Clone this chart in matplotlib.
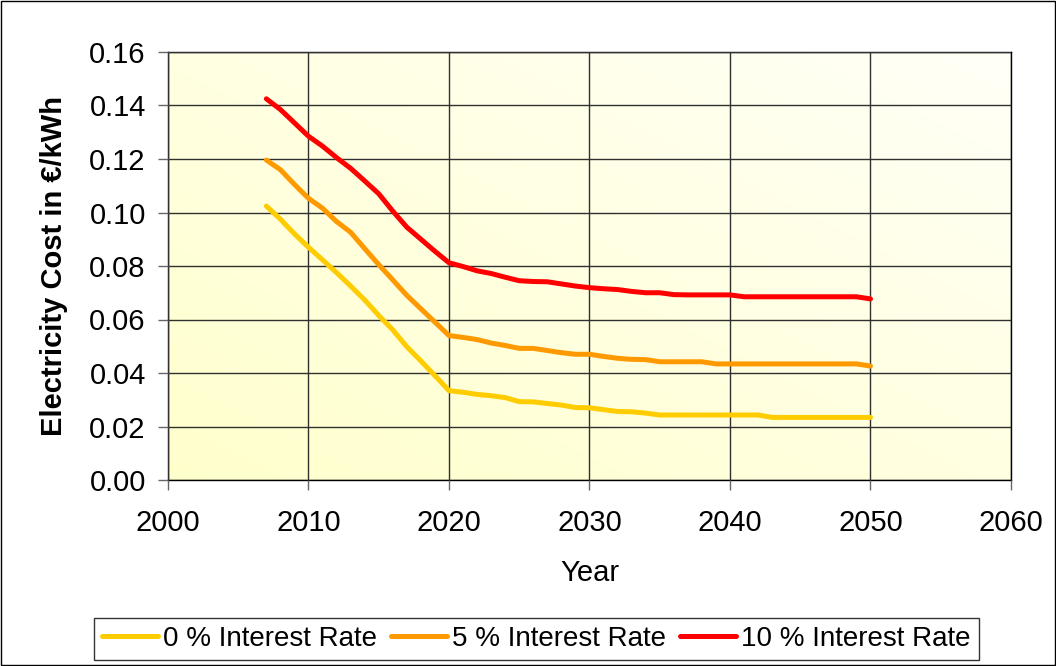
import matplotlib
matplotlib.use("Agg")
import matplotlib.pyplot as plt
import numpy as np

years = list(range(2007, 2051))

rate0 = [0.1024, 0.0975, 0.0920, 0.0870, 0.0823, 0.0775, 0.0725, 0.0673, 0.0615, 0.0561,
         0.0498, 0.0445, 0.0390, 0.0334, 0.0328, 0.0320, 0.0315, 0.0308, 0.0293, 0.0292,
         0.0286, 0.0280, 0.0271, 0.0270, 0.0263, 0.0256, 0.0255, 0.0250, 0.0243, 0.0243,
         0.0243, 0.0243, 0.0243, 0.0243, 0.0243, 0.0243, 0.0234, 0.0234, 0.0234, 0.0234,
         0.0234, 0.0234, 0.0234, 0.0234]
rate5 = [0.1196, 0.1160, 0.1105, 0.1053, 0.1016, 0.0966, 0.0926, 0.0865, 0.0805, 0.0748,
         0.0690, 0.0640, 0.0590, 0.0540, 0.0533, 0.0525, 0.0512, 0.0503, 0.0492, 0.0492,
         0.0484, 0.0476, 0.0470, 0.0470, 0.0462, 0.0455, 0.0451, 0.0450, 0.0442, 0.0442,
         0.0442, 0.0442, 0.0434, 0.0434, 0.0434, 0.0434, 0.0434, 0.0434, 0.0434, 0.0434,
         0.0434, 0.0434, 0.0434, 0.0426]
rate10 = [0.1425, 0.1385, 0.1335, 0.1285, 0.1248, 0.1205, 0.1165, 0.1118, 0.1070, 0.1005,
          0.0945, 0.0900, 0.0855, 0.0812, 0.0798, 0.0782, 0.0772, 0.0758, 0.0745, 0.0742,
          0.0741, 0.0733, 0.0725, 0.0719, 0.0715, 0.0712, 0.0705, 0.0700, 0.0700, 0.0693,
          0.0692, 0.0692, 0.0692, 0.0692, 0.0685, 0.0685, 0.0685, 0.0685, 0.0685, 0.0685,
          0.0685, 0.0685, 0.0685, 0.0677]

series_labels = ["0 % Interest Rate", "5 % Interest Rate", "10 % Interest Rate"]
series_colors = ["#FFCC00", "#FF9900", "#FF0000"]

xticks = [2000, 2010, 2020, 2030, 2040, 2050, 2060]
yticks = [0.00, 0.02, 0.04, 0.06, 0.08, 0.10, 0.12, 0.14, 0.16]

plt.rcParams['font.family'] = ['Liberation Sans', 'DejaVu Sans']

fig = plt.figure(figsize=(10.56, 6.66), dpi=100)
ax = fig.add_axes([168/1056, 1-480/666, (1011-168)/1056, (480-52)/666])

# gradient background: yellow bottom-left to near-white top-right
n = 200
gx, gy = np.meshgrid(np.linspace(0, 1, n), np.linspace(0, 1, n))
t = np.clip((gx + gy) / 2, 0, 1)
c0 = np.array([1.0, 1.0, 0.80])
c1 = np.array([1.0, 1.0, 0.97])
img = c0[None, None, :] * (1 - t[..., None]) + c1[None, None, :] * t[..., None]
ax.imshow(img, extent=[0, 1, 0, 1], transform=ax.transAxes, origin='lower',
          aspect='auto', zorder=0)

for vals, lab, col in zip([rate0, rate5, rate10], series_labels, series_colors):
    ax.plot(years, vals, color=col, lw=3.6, label=lab, solid_capstyle='round',
            solid_joinstyle='round', zorder=3)

ax.set_xlim(2000, 2060)
ax.set_ylim(0, 0.16)
ax.set_xticks(xticks)
ax.set_yticks(yticks)
ax.set_yticklabels([f"{v:.2f}" for v in yticks])
ax.grid(True, color='#303030', lw=1.0, zorder=1)
ax.set_axisbelow(False)
for s in ax.spines.values():
    s.set_color('black')
    s.set_linewidth(1.0)
ax.tick_params(axis='both', labelsize=21, direction='out', length=7, width=1, color='#666666')
ax.tick_params(axis='y', pad=9)
ax.tick_params(axis='x', pad=14)

ax.set_xlabel("Year", fontsize=21, labelpad=16)
ax.set_ylabel("Electricity Cost in €/kWh", fontsize=21, fontweight='bold', labelpad=15)

leg = fig.legend(loc='center', bbox_to_anchor=(0.508, 1-639/666), ncol=3, fontsize=20,
                 frameon=True, fancybox=False, edgecolor='black', handlelength=2.0,
                 handletextpad=0.2, columnspacing=0.5, borderpad=0.3, borderaxespad=0)
leg.get_frame().set_linewidth(1.0)

# outer border
fig.patches.append(plt.Rectangle((0.001, 0.001), 0.998, 0.998, transform=fig.transFigure,
                                 fill=False, edgecolor='black', lw=1.0))

fig.savefig("out.png", dpi=100)
